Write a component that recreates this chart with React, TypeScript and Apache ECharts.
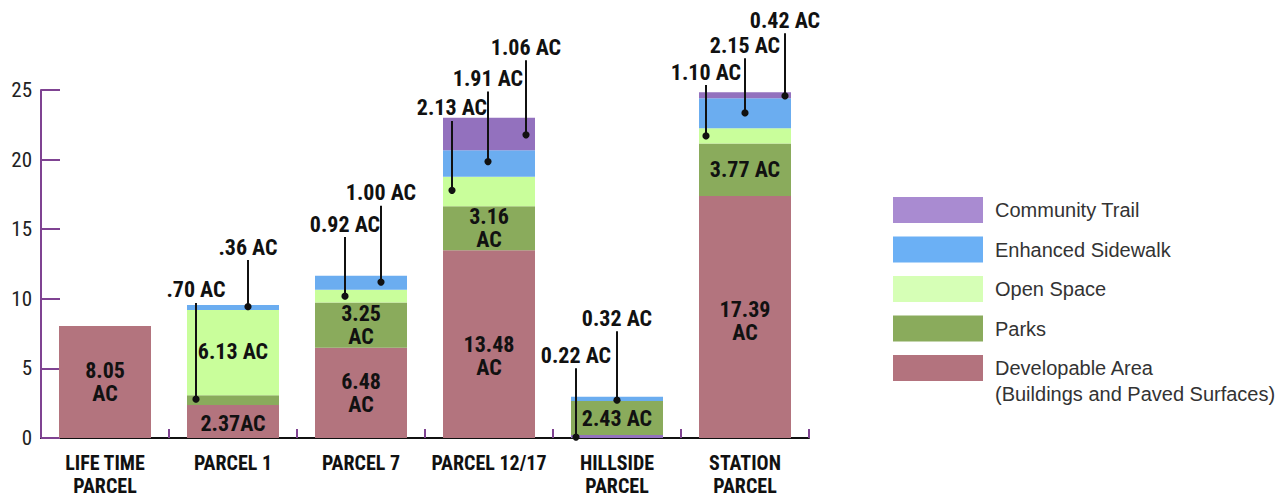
import React, { useEffect, useRef } from "react";
import * as echarts from "echarts";

const categories = ["LIFE TIME\nPARCEL", "PARCEL 1", "PARCEL 7", "PARCEL 12/17", "HILLSIDE\nPARCEL", "STATION\nPARCEL"];
const yTicks = [0, 5, 10, 15, 20, 25];

// stacked segments, bottom to top
const trailBase = [0, 0, 0, 0, 0.22, 0];
const developable = [8.05, 2.37, 6.48, 13.48, 0, 17.39];
const parks = [0, 0.7, 3.25, 3.16, 2.43, 3.77];
const openSpace = [0, 6.13, 0.92, 2.13, 0, 1.1];
const sidewalk = [0, 0.36, 1.0, 1.91, 0.32, 2.15];
const trail = [0, 0, 0, 2.32, 0, 0.42];

const developableLabels = ["8.05\nAC", "2.37AC", "6.48\nAC", "13.48\nAC", "", "17.39\nAC"];
const parksLabels = ["", "", "3.25\nAC", "3.16\nAC", "2.43 AC", "3.77 AC"];
const openSpaceLabels = ["", "6.13 AC", "", "", "", ""];

// callouts: category index, value where the dot sits, label
const calloutCats = [1, 1, 2, 2, 3, 3, 3, 4, 4, 5, 5, 5];
const calloutDots = [2.79, 9.43, 10.19, 11.2, 17.79, 19.86, 21.78, 0.07, 2.72, 21.7, 23.35, 24.57];
const calloutTexts = [".70 AC", ".36 AC", "0.92 AC", "1.00 AC", "2.13 AC", "1.91 AC", "1.06 AC", "0.22 AC", "0.32 AC", "1.10 AC", "2.15 AC", "0.42 AC"];
// layout of the callouts (text height in axis units, horizontal shift in px)
const calloutTextLevel = [10.64, 13.72, 15.37, 17.62, 23.71, 25.82, 28.08, 5.95, 8.6, 26.29, 28.22, 30.01];
const calloutDx = [-37, 15, -16, 20, -37, -1, 37, -41, 0, -39, 0, 40];

const legendNames = ["Community Trail", "Enhanced Sidewalk", "Open Space", "Parks", "Developable Area"];

const C = {
  dev: "#b3747e",
  parks: "#8aab5c",
  open: "#c9fe9b",
  walk: "#6badf0",
  trail: "#9371be",
  axis: "#7f4392",
};
const NARROW = "'Liberation Sans Narrow', 'Arial Narrow', 'Roboto Condensed', 'DejaVu Sans Condensed', sans-serif";
const SANS = "'Liberation Sans', Arial, sans-serif";

function withLabels(values: number[], labels: string[] | null, offsets?: number[]) {
  return values.map((v, i) => {
    const lab = labels ? labels[i] : "";
    return {
      value: v,
      label: lab
        ? { show: true, formatter: lab, offset: [0, offsets ? offsets[i] : 0] }
        : { show: false },
    };
  });
}

const innerLabel = {
  position: "inside",
  color: "#111",
  fontFamily: NARROW,
  fontWeight: "bold",
  fontSize: 22,
  lineHeight: 23,
};

export default function App() {
  const ref = useRef<HTMLDivElement>(null);
  useEffect(() => {
    if (!ref.current) return;
    const chart = echarts.init(ref.current, null, { renderer: "svg" });
    const barBase = { type: "bar", stack: "total", barWidth: 92, label: innerLabel };
    chart.setOption({
      animation: false,
      grid: { left: 41, top: 90, width: 768, height: 349, containLabel: false },
      legend: {
        orient: "vertical",
        left: 893,
        top: 197,
        padding: 0,
        itemWidth: 90,
        itemHeight: 26,
        itemGap: 13.5,
        icon: "rect",
        selectedMode: false,
        textStyle: { fontFamily: SANS, fontSize: 20, lineHeight: 20, color: "#333", padding: [0, 0, 0, 7] },
        data: [
          { name: legendNames[0], itemStyle: { color: "#a98bd1" } },
          { name: legendNames[1], itemStyle: { color: "#6bb0f5" } },
          { name: legendNames[2], itemStyle: { color: "#d6ffb6" } },
          { name: legendNames[3], itemStyle: { color: "#8aab5c" } },
          { name: legendNames[4], itemStyle: { color: "#b3737e" } },
        ],
      },
      graphic: [
        {
          type: "text",
          left: 995,
          top: 384,
          style: { text: "(Buildings and Paved Surfaces)", fill: "#333", fontFamily: SANS, fontSize: 20, lineHeight: 20 },
        },
      ],
      xAxis: {
        type: "category",
        data: categories,
        axisLine: { lineStyle: { color: "#111", width: 2 } },
        axisTick: { show: true, inside: true, length: 9, lineStyle: { color: C.axis, width: 2 } },
        axisLabel: {
          interval: 0,
          margin: 13,
          color: "#111",
          fontFamily: NARROW,
          fontWeight: "bold",
          fontSize: 20,
          lineHeight: 23,
        },
      },
      yAxis: {
        type: "value",
        min: yTicks[0],
        max: yTicks[yTicks.length - 1],
        interval: 5,
        splitLine: { show: false },
        axisLine: { show: true, lineStyle: { color: C.axis, width: 2 } },
        axisTick: { show: true, inside: true, length: 19, lineStyle: { color: C.axis, width: 2 } },
        axisLabel: { margin: 9, color: "#222", fontFamily: NARROW, fontSize: 21 },
      },
      series: [
        { ...barBase, name: "Community Trail", itemStyle: { color: C.trail }, data: withLabels(trailBase, null) },
        {
          ...barBase,
          name: "Developable Area",
          itemStyle: { color: C.dev },
          data: withLabels(developable, developableLabels, [0, 2, 0, 12, 0, 4]),
        },
        { ...barBase, name: "Parks", itemStyle: { color: C.parks }, data: withLabels(parks, parksLabels) },
        { ...barBase, name: "Open Space", itemStyle: { color: C.open }, data: withLabels(openSpace, openSpaceLabels, [0, -1, 0, 0, 0, 0]) },
        { ...barBase, name: "Enhanced Sidewalk", itemStyle: { color: C.walk }, data: withLabels(sidewalk, null) },
        { ...barBase, name: "Community Trail", itemStyle: { color: C.trail }, data: withLabels(trail, null) },
        {
          type: "custom",
          name: "callouts",
          clip: false,
          z: 10,
          encode: { x: 0, y: 1 },
          data: calloutCats.map((c, i) => [c, calloutDots[i], calloutTextLevel[i], calloutDx[i]]),
          renderItem: (params: any, api: any) => {
            const cat = api.value(0);
            const dot = api.coord([cat, api.value(1)]);
            const txt = api.coord([cat, api.value(2)]);
            const x = dot[0] + api.value(3);
            return {
              type: "group",
              children: [
                {
                  type: "line",
                  shape: { x1: x, y1: txt[1] + 13, x2: x, y2: dot[1] },
                  style: { stroke: "#111", lineWidth: 2 },
                },
                { type: "circle", shape: { cx: x, cy: dot[1], r: 3.6 }, style: { fill: "#111" } },
                {
                  type: "text",
                  x,
                  y: txt[1],
                  style: {
                    text: calloutTexts[params.dataIndex],
                    fill: "#111",
                    fontFamily: NARROW,
                    fontWeight: "bold",
                    fontSize: 22,
                    align: "center",
                    verticalAlign: "middle",
                  },
                },
              ],
            };
          },
        },
      ],
    });
    return () => chart.dispose();
  }, []);
  return <div ref={ref} style={{ position: "absolute", left: 0, top: 0, width: 1287, height: 497 }} />;
}
